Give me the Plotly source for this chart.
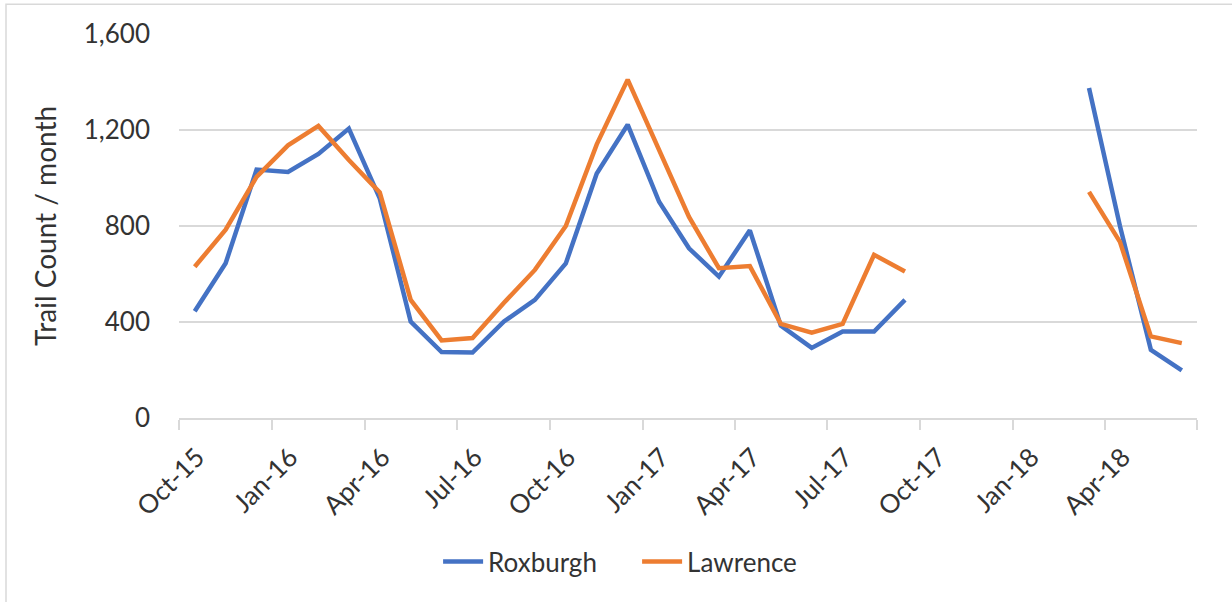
import plotly.graph_objects as go

months = ["2015-10-01", "2015-11-01", "2015-12-01", "2016-01-01", "2016-02-01", "2016-03-01",
          "2016-04-01", "2016-05-01", "2016-06-01", "2016-07-01", "2016-08-01", "2016-09-01",
          "2016-10-01", "2016-11-01", "2016-12-01", "2017-01-01", "2017-02-01", "2017-03-01",
          "2017-04-01", "2017-05-01", "2017-06-01", "2017-07-01", "2017-08-01", "2017-09-01",
          "2017-10-01", "2017-11-01", "2017-12-01", "2018-01-01", "2018-02-01", "2018-03-01",
          "2018-04-01", "2018-05-01", "2018-06-01"]

roxburgh = [445, 645, 1035, 1025, 1100, 1206, 915, 402, 275, 273, 402, 492,
            644, 1019, 1222, 901, 707, 589, 782, 385, 292, 360, 360, 492,
            None, None, None, None, None, 1375, 800, 284, 198]

lawrence = [630, 785, 1005, 1136, 1217, 1075, 940, 492, 323, 333, 480, 617,
            800, 1140, 1410, 1120, 838, 624, 633, 392, 356, 392, 680, 610,
            None, None, None, None, None, 942, 734, 340, 312]

x_tick_dates = ["2015-10-01", "2016-01-01", "2016-04-01", "2016-07-01", "2016-10-01",
                "2017-01-01", "2017-04-01", "2017-07-01", "2017-10-01", "2018-01-01",
                "2018-04-01", "2018-07-01"]
x_tick_labels = ["Oct-15", "Jan-16", "Apr-16", "Jul-16", "Oct-16", "Jan-17", "Apr-17",
                 "Jul-17", "Oct-17", "Jan-18", "Apr-18", ""]

y_ticks = [0, 400, 800, 1200, 1600]

TXT = "#333333"
FONT = "Lato"

fig = go.Figure()
fig.add_trace(go.Scatter(x=months, y=roxburgh, name="Roxburgh", mode="lines",
                         line=dict(color="#4472C4", width=4.5),
                         xperiod="M1", xperiodalignment="middle", connectgaps=False))
fig.add_trace(go.Scatter(x=months, y=lawrence, name="Lawrence", mode="lines",
                         line=dict(color="#ED7D31", width=4.5),
                         xperiod="M1", xperiodalignment="middle", connectgaps=False))

fig.update_layout(
    width=1232, height=602,
    margin=dict(l=179, r=35, t=34, b=184, autoexpand=False),
    paper_bgcolor="white", plot_bgcolor="white",
    font=dict(family=FONT, color=TXT, size=26),
    showlegend=True,
    legend=dict(orientation="h", x=0.45, xanchor="center", y=-0.374, yanchor="middle",
                font=dict(size=26, color=TXT), itemwidth=40, tracegroupgap=0,
                entrywidth=144),
    xaxis=dict(type="date", range=["2015-10-01", "2018-07-01"],
               tickvals=x_tick_dates, ticktext=x_tick_labels,
               tickangle=-45, ticks="outside", ticklen=10, tickcolor="#d9d9d9", tickwidth=1.5,
               showgrid=False, showline=True, linecolor="#d9d9d9", linewidth=1.5,
               ticklabelshift=18, ticklabelstandoff=2,
               tickfont=dict(size=26, color=TXT), automargin=False),
    yaxis=dict(range=[0, 1600], tickvals=y_ticks, tickformat=",",
               showgrid=True, gridcolor="#d9d9d9", gridwidth=1.5,
               zeroline=False, showline=False, ticks="",
               ticklabelstandoff=28,
               tickfont=dict(size=26, color=TXT),
               title=dict(text="Trail Count / month", font=dict(size=28, color=TXT), standoff=18),
               automargin=False),
    shapes=[dict(type="rect", xref="paper", yref="paper",
                 x0=(6 - 179) / 1018, x1=(1240 - 179) / 1018,
                 y0=(418.3 - 610) / 384.6, y1=(418.3 - 4) / 384.6,
                 line=dict(color="#d9d9d9", width=1.5), layer="below")],
)

fig.write_html("out.html", post_script="document.body.style.margin='0';",
               config={"displayModeBar": False})
